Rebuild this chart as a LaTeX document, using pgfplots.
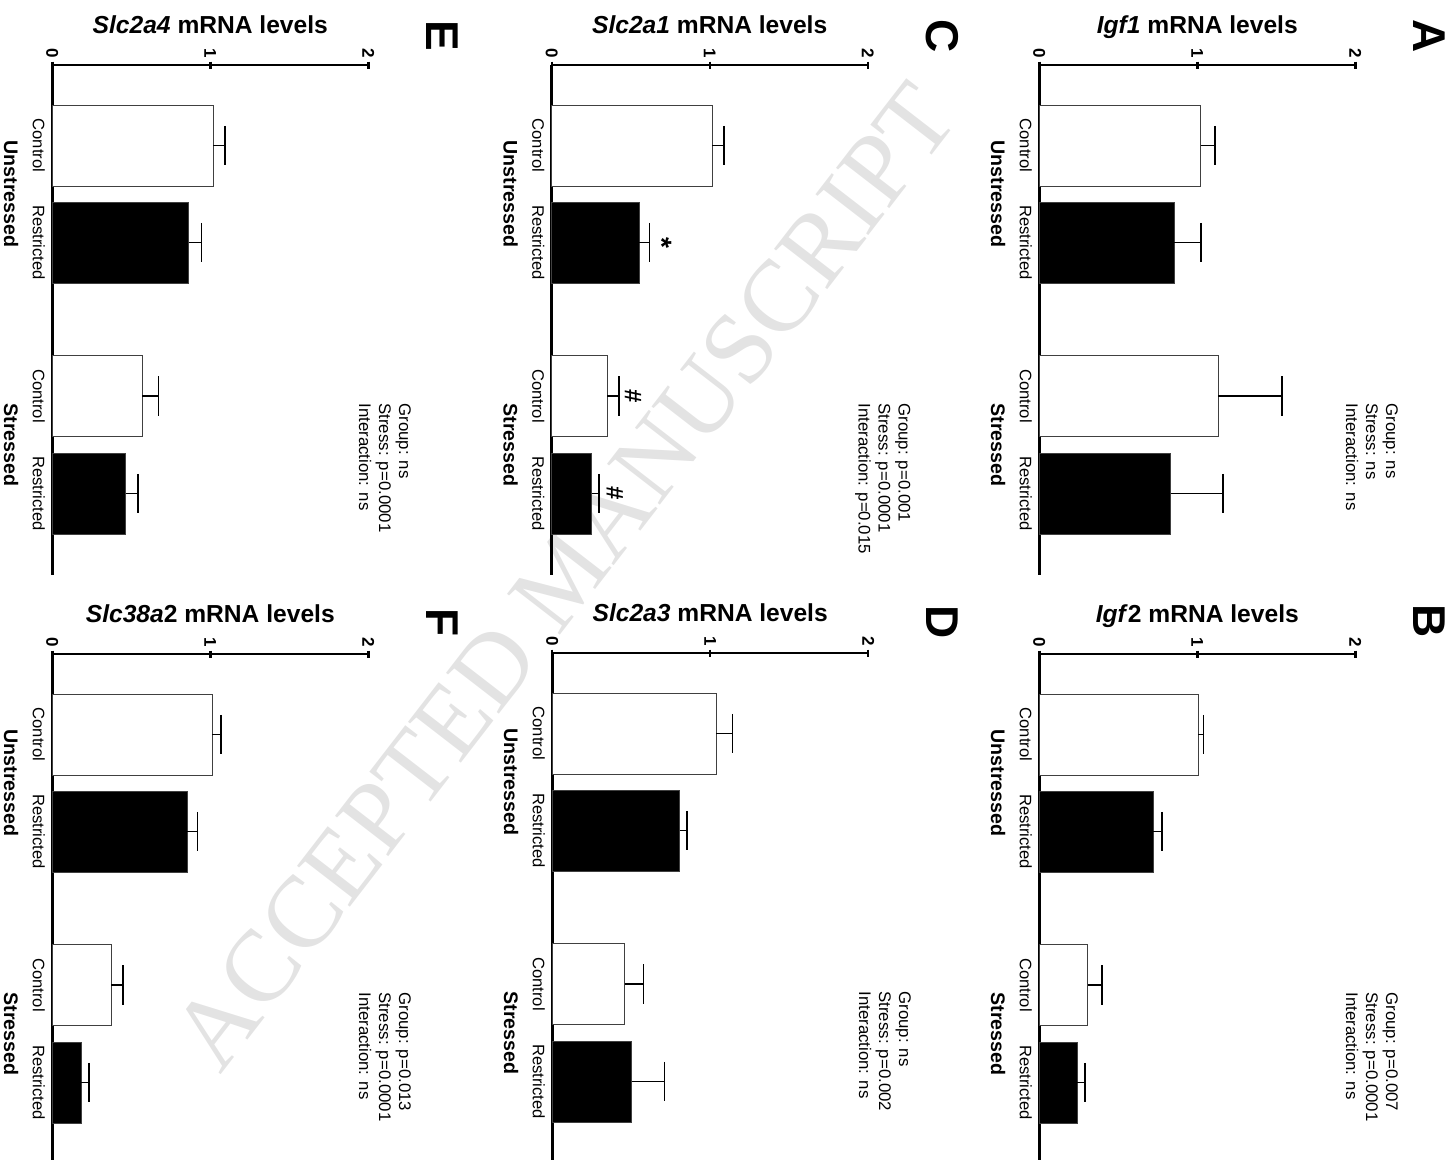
\documentclass[border=0pt]{standalone}
\usepackage{pgfplots}
\pgfplotsset{compat=1.18}
\usepackage{fontspec}
\setmainfont{Liberation Sans}
\newfontfamily\wmfont{Liberation Serif}

\pgfplotsset{
  panel/.style={
    anchor=north west, scale only axis, width=158pt, height=255pt,
    xmin=0, xmax=2, ymin=0, ymax=510, y dir=reverse, enlargelimits=false,
    axis x line=top, axis y line=left,
    axis line style={-, line width=1.4pt},
    xtick={0,1,2}, major tick length=3.5pt,
    xtick style={line width=1.2pt, black},
    /pgf/number format/assume math mode=true,
    xticklabel style={rotate=-90, anchor=east, inner sep=1.5pt,
      font=\bfseries\fontsize{8.5}{9}\selectfont},
    ytick={80.5,177.5,331,428.5},
    yticklabels={Control,Restricted,Control,Restricted},
    ytick style={draw=none},
    yticklabel style={rotate=-90, anchor=north, inner sep=0pt,
      font=\fontsize{8.3}{10}\selectfont},
    xbar, bar width=81, bar shift=0pt, clip=false,
    error bars/x dir=plus, error bars/x explicit,
    error bars/error bar style={line width=0.65pt, black},
    error bars/error mark options={rotate=90, line width=0.65pt, black, mark size=9.8pt},
  },
  ctrl/.style={fill=white, draw=black!75, line width=0.5pt},
  restr/.style={fill=black, draw=black!75, line width=0.5pt},
}

% #1 position, #2 title, #3 panel letter, #4 letter offset,
% #5 statistics, #6 control bars, #7 restricted bars, #8 extra annotations
\newcommand{\panel}[8]{%
  \begin{axis}[panel, at={(#1)}]
    \addplot[ctrl] coordinates {#6};
    \addplot[restr] coordinates {#7};
    \node[font=\bfseries\fontsize{12.3}{14}\selectfont, anchor=base]
      at (axis cs:1,-32) {#2};
    \node[rotate=-90, font=\bfseries\fontsize{23}{26}\selectfont]
      at (axis cs:2.47,#4) {#3};
    \node[rotate=-90, anchor=north west, align=left, inner sep=0pt,
      font=\fontsize{8.4}{10}\selectfont] at (axis cs:2.272,338) {#5};
    \node[rotate=-90, font=\bfseries\fontsize{9.8}{11}\selectfont]
      at (axis cs:-0.26,129) {Unstressed};
    \node[rotate=-90, font=\bfseries\fontsize{9.8}{11}\selectfont]
      at (axis cs:-0.26,380) {Stressed};
    #8
  \end{axis}}

\begin{document}
\begin{tikzpicture}
  \path[use as bounding box] (0pt,0pt) rectangle (728pt,-580pt);
  \node[rotate=52.3, text=black!11, font=\wmfont\fontsize{51}{51}\selectfont]
    at (282pt,-288pt) {ACCEPTED MANUSCRIPT};

  % A: Igf1
  \panel{519.65pt,-32.5pt}{\textit{Igf1} mRNA levels}{A}{-29}
    {Group: ns\\Stress: ns\\Interaction: ns}
    {(1.023,80.5) +- (0.089,0) (1.133,331) +- (0.403,0)}
    {(0.854,177.5) +- (0.169,0) (0.833,428.5) +- (0.330,0)}
    {}
  % B: Igf2
  \panel{519.65pt,-327pt}{\textit{Igf}2 mRNA levels}{B}{-33}
    {Group: p=0.007\\Stress: p=0.0001\\Interaction: ns}
    {(1.006,80.5) +- (0.032,0) (0.308,331) +- (0.089,0)}
    {(0.720,177.5) +- (0.057,0) (0.239,428.5) +- (0.050,0)}
    {}
  % C: Slc2a1
  \panel{275.85pt,-32.5pt}{\textit{Slc2a1} mRNA levels}{C}{-29}
    {Group: p=0.001\\Stress: p=0.0001\\Interaction: p=0.015}
    {(1.016,80.5) +- (0.074,0) (0.352,331) +- (0.074,0)}
    {(0.554,177.5) +- (0.064,0) (0.255,428.5) +- (0.044,0)}
    {\node[rotate=-90, font=\bfseries\fontsize{14}{15}\selectfont] at (axis cs:0.698,177.5) {*};
     \node[rotate=-90, font=\bfseries\fontsize{12}{14}\selectfont] at (axis cs:0.515,331) {\#};
     \node[rotate=-90, font=\bfseries\fontsize{12}{14}\selectfont] at (axis cs:0.400,428.5) {\#};}
  % D: Slc2a3
  \panel{276.1pt,-326.5pt}{\textit{Slc2a3} mRNA levels}{D}{-31}
    {Group: ns\\Stress: p=0.002\\Interaction: ns}
    {(1.038,80.5) +- (0.104,0) (0.460,331) +- (0.120,0)}
    {(0.808,177.5) +- (0.046,0) (0.503,428.5) +- (0.206,0)}
    {}
  % E: Slc2a4
  \panel{26.15pt,-32.5pt}{\textit{Slc2a4} mRNA levels}{E}{-29}
    {Group: ns\\Stress: p=0.0001\\Interaction: ns}
    {(1.019,80.5) +- (0.074,0) (0.570,331) +- (0.103,0)}
    {(0.865,177.5) +- (0.081,0) (0.466,428.5) +- (0.076,0)}
    {}
  % F: Slc38a2
  \panel{26.15pt,-327pt}{\textit{Slc38a}2 mRNA levels}{F}{-31}
    {Group: p=0.013\\Stress: p=0.0001\\Interaction: ns}
    {(1.013,80.5) +- (0.055,0) (0.372,331) +- (0.075,0)}
    {(0.854,177.5) +- (0.066,0) (0.182,428.5) +- (0.050,0)}
    {}
\end{tikzpicture}
\end{document}
